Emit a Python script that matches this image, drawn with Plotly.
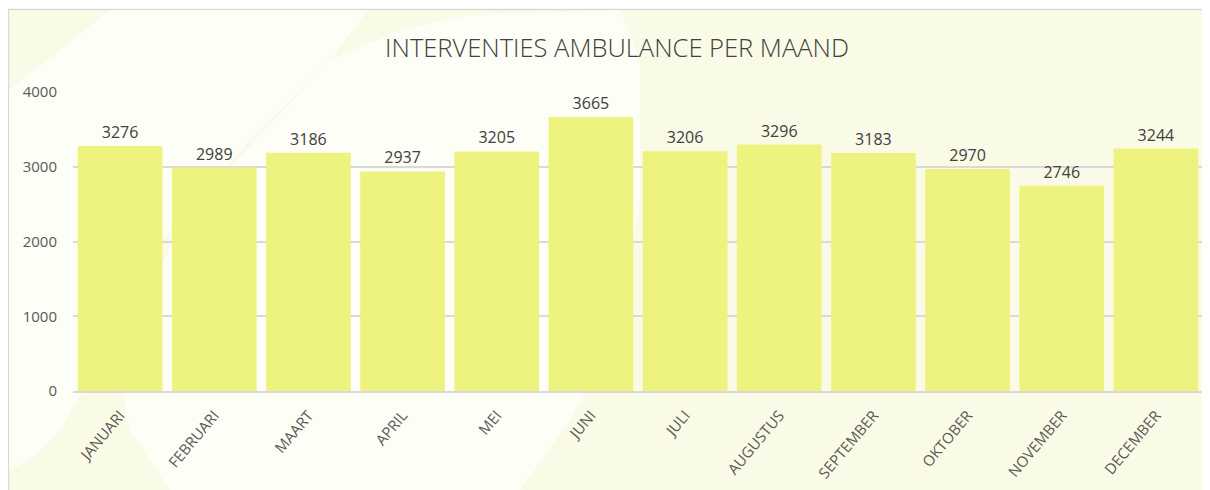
import plotly.graph_objects as go

months = ["JANUARI", "FEBRUARI", "MAART", "APRIL", "MEI", "JUNI", "JULI",
          "AUGUSTUS", "SEPTEMBER", "OKTOBER", "NOVEMBER", "DECEMBER"]
interventions = [3276, 2989, 3186, 2937, 3205, 3665, 3206, 3296, 3183, 2970, 2746, 3244]
title_text = "INTERVENTIES AMBULANCE PER MAAND"

W, H = 1210, 490
OFF = 8  # page offset of the figure
L, R, T, B = 65, 15, 84, 107
pw, ph = W - L - R, H - T - B

def px(x):  # page x -> paper
    return (x - OFF - L) / pw

def py(y):  # page y -> paper
    return (H - B - (y - OFF)) / ph

fig = go.Figure(go.Bar(
    x=months, y=interventions,
    marker=dict(color="#EEF380", line=dict(width=0)),
    text=interventions, textposition="outside",
    textfont=dict(family="Open Sans", size=16, color="#404040"),
    cliponaxis=False, width=0.9,
))

shapes = []
shapes.append(dict(type="rect", xref="paper", yref="paper", layer="below",
                   x0=px(8.5), x1=px(1230), y0=py(520), y1=py(9.5),
                   fillcolor="#F9FBE6", line=dict(color="#D9D9D9", width=1.5)))

def path(points):
    return "M " + " L ".join(f"{px(a):.4f},{py(b):.4f}" for a, b in points) + " Z"

shapes.append(dict(type="path", xref="paper", yref="paper", layer="below",
                   path=path([(110, 10), (368, 10), (330, 60), (250, 140), (170, 230),
                              (120, 300), (90, 380), (60, 430), (30, 460), (9, 470),
                              (9, 90), (60, 50)]),
                   fillcolor="#FDFEF6", line=dict(width=0)))
shapes.append(dict(type="path", xref="paper", yref="paper", layer="below",
                   path=path([(330, 60), (400, 30), (470, 15), (620, 10), (640, 60),
                              (640, 200), (620, 330), (570, 420), (520, 490),
                              (170, 490), (130, 430), (120, 380), (140, 300), (200, 200)]),
                   fillcolor="#FDFEF6", line=dict(width=0)))

fig.update_layout(
    width=W, height=H,
    margin=dict(l=L, r=R, t=T, b=B),
    paper_bgcolor="white", plot_bgcolor="rgba(0,0,0,0)",
    shapes=shapes,
    showlegend=False,
    bargap=0.1,
    title=dict(text=title_text, x=(617 - OFF) / W, xanchor="center",
               y=1 - (48 - OFF) / H, yanchor="middle",
               font=dict(family="Open Sans", size=25.5, color="#404040", weight=300)),
    xaxis=dict(tickangle=-50, tickfont=dict(family="Open Sans", size=15, color="#595959"),
               showline=True, linecolor="#D9D9D9", linewidth=1.5, ticks="",
               ticklabelstandoff=8),
    yaxis=dict(range=[0, 4000], dtick=1000, showgrid=True, gridcolor="#D9D9D9",
               gridwidth=1.5, zeroline=False,
               tickfont=dict(family="Open Sans", size=15, color="#595959"),
               ticklabelstandoff=15),
)

fig.write_html("out.html")
